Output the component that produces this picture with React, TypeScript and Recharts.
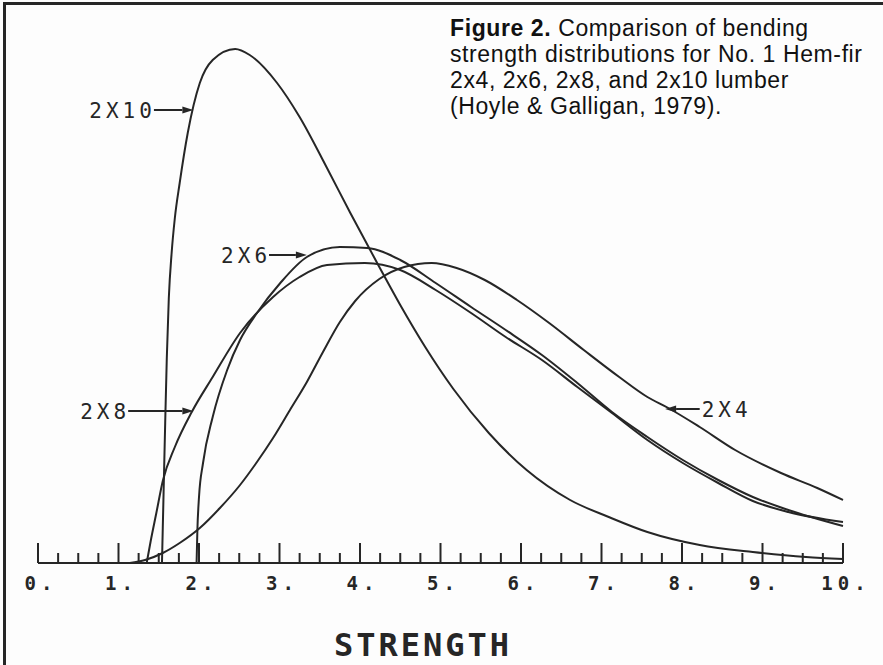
import React from 'react';
import { LineChart, Line, XAxis, YAxis, ReferenceLine } from 'recharts';

// strength distribution curves ([strength, density])
const SERIES_2X10: [number, number][] = [
  [1.54, 0], [1.56, 0.7], [1.58, 1.4], [1.6, 2.05], [1.625, 2.65], [1.66, 3.1], [1.7, 3.45],
  [1.76, 3.8], [1.86, 4.3], [2.01, 4.8], [2.17, 5.03], [2.45, 5.14], [2.63, 5.08], [2.97, 4.8],
  [3.25, 4.46], [3.59, 3.95], [3.88, 3.5], [4.24, 2.96], [4.5, 2.58], [4.81, 2.16], [5.16, 1.74],
  [5.6, 1.3], [6.07, 0.93], [6.61, 0.63], [7.09, 0.46], [7.57, 0.31], [8.22, 0.18], [8.88, 0.11],
  [9.54, 0.06], [10, 0.04],
];
const SERIES_2X8: [number, number][] = [
  [1.35, 0], [1.4, 0.22], [1.47, 0.5], [1.55, 0.82], [1.7, 1.16], [1.91, 1.51], [2.17, 1.86],
  [2.51, 2.3], [2.92, 2.66], [3.25, 2.86], [3.59, 2.98], [4.06, 3.0], [4.5, 2.93], [4.94, 2.73],
  [5.38, 2.5], [5.81, 2.26], [6.26, 2.03], [6.7, 1.76], [7.13, 1.5], [7.57, 1.23], [8.01, 1.0],
  [8.45, 0.8], [8.88, 0.62], [9.32, 0.51], [10, 0.41],
];
const SERIES_2X6: [number, number][] = [
  [1.97, 0], [1.98, 0.33], [2.0, 0.66], [2.05, 1.0], [2.17, 1.46], [2.35, 1.93], [2.51, 2.23],
  [2.72, 2.5], [3.01, 2.8], [3.34, 3.06], [3.75, 3.16], [4.09, 3.15], [4.5, 3.03], [4.94, 2.8],
  [5.38, 2.56], [5.81, 2.33], [6.26, 2.08], [6.7, 1.8], [7.13, 1.51], [7.57, 1.26], [8.01, 1.03],
  [8.45, 0.83], [8.88, 0.66], [9.32, 0.53], [10, 0.37],
];
const SERIES_2X4: [number, number][] = [
  [1.14, 0], [1.33, 0.03], [1.55, 0.1], [1.76, 0.2], [2.01, 0.35], [2.26, 0.55], [2.51, 0.78],
  [2.72, 1.01], [2.92, 1.25], [3.13, 1.53], [3.34, 1.81], [3.54, 2.11], [3.75, 2.41], [3.94, 2.62],
  [4.24, 2.84], [4.55, 2.96], [4.89, 3.0], [5.2, 2.95], [5.55, 2.83], [5.95, 2.63], [6.35, 2.4],
  [6.78, 2.13], [7.22, 1.86], [7.57, 1.66], [7.83, 1.55], [8.22, 1.36], [8.66, 1.13], [9.23, 0.9],
  [9.68, 0.75], [10, 0.63],
];

const MAJOR_TICKS = [0, 1, 2, 3, 4, 5, 6, 7, 8, 9, 10];
const TICK_LABELS = ['0.', '1.', '2.', '3.', '4.', '5.', '6.', '7.', '8.', '9.', '10.'];

// arrow callouts: tail (where the text sits) -> tip (touching the curve)
const CURVE_LABELS = [
  { text: '2X10', tail: [1.44, 4.53], tip: [1.93, 4.53] },
  { text: '2X6', tail: [2.87, 3.08], tip: [3.34, 3.08] },
  { text: '2X8', tail: [1.12, 1.52], tip: [1.93, 1.52] },
  { text: '2X4', tail: [8.22, 1.54], tip: [7.79, 1.54] },
];

const INK = '#262626';
const PLOT_FONT = '"DejaVu Sans Mono", monospace';

const toPoints = (s: [number, number][]) => s.map(([x, y]) => ({ x, y }));

const allTicks = MAJOR_TICKS.flatMap((t) => (t < 10 ? [t, t + 0.25, t + 0.5, t + 0.75] : [t]));

const AxisTick = (props: any) => {
  const { x, y, payload } = props;
  const i = MAJOR_TICKS.indexOf(payload.value);
  const major = i >= 0;
  return (
    <g>
      <line x1={x} x2={x} y1={y} y2={y - (major ? 20 : 10)} stroke={INK} strokeWidth={2} />
      {major && (
        <text x={x} y={y + 27} dx={3} textAnchor="middle" fontFamily={PLOT_FONT} fontSize={19}
          fontWeight="bold" letterSpacing={5} fill={INK}>
          {TICK_LABELS[i]}
        </text>
      )}
    </g>
  );
};

const ArrowLabel = (props: any) => {
  const { x1, y1, x2, y2, text } = props;
  const dir = x2 > x1 ? 1 : -1;
  const head = 11;
  return (
    <g>
      <line x1={x1} y1={y1} x2={x2 - dir * head} y2={y2} stroke={INK} strokeWidth={2} />
      <polygon points={`${x2},${y2} ${x2 - dir * head},${y2 - 3.5} ${x2 - dir * head},${y2 + 3.5}`} fill={INK} />
      <text x={x1 - dir * 2} y={y1} dy={8} dx={dir > 0 ? 4 : 0} textAnchor={dir > 0 ? 'end' : 'start'}
        fontFamily={PLOT_FONT} fontSize={21} letterSpacing={4} fill={INK}>
        {text}
      </text>
    </g>
  );
};

const seriesList = [SERIES_2X10, SERIES_2X8, SERIES_2X6, SERIES_2X4];

export default function App() {
  return (
    <div style={{ position: 'absolute', left: 0, top: 0, width: 883, height: 665, background: '#fdfdfd', overflow: 'hidden' }}>
      <div style={{ position: 'absolute', left: 3, top: 2, width: 880, height: 663, borderTop: `3px solid ${INK}`, borderLeft: `3px solid ${INK}` }} />
      <LineChart width={883} height={665} margin={{ top: 13, right: 40, bottom: 0, left: 38 }}>
        <XAxis
          type="number"
          dataKey="x"
          domain={[0, 10]}
          ticks={allTicks}
          interval={0}
          tickLine={false}
          tickSize={0}
          tickMargin={0}
          height={102}
          axisLine={{ stroke: INK, strokeWidth: 2 }}
          tick={<AxisTick />}
        />
        <YAxis hide type="number" domain={[0, 5.5]} />
        {seriesList.map((s, i) => (
          <Line
            key={i}
            data={toPoints(s)}
            dataKey="y"
            type="monotone"
            dot={false}
            stroke={INK}
            strokeWidth={2}
            isAnimationActive={false}
          />
        ))}
        {CURVE_LABELS.map((c) => (
          <ReferenceLine
            key={c.text}
            segment={[{ x: c.tail[0], y: c.tail[1] }, { x: c.tip[0], y: c.tip[1] }]}
            shape={(p: any) => <ArrowLabel {...p} text={c.text} />}
          />
        ))}
      </LineChart>
      <div style={{ position: 'absolute', left: 334, top: 627, fontFamily: PLOT_FONT, fontSize: 32, fontWeight: 'bold', letterSpacing: 3, color: INK, lineHeight: '36px' }}>
        STRENGTH
      </div>
      <div style={{ position: 'absolute', left: 450, top: 15, fontFamily: '"Liberation Sans", Arial, sans-serif', fontSize: 23, letterSpacing: 0.6, lineHeight: '26px', color: '#111' }}>
        <b>Figure 2.</b> Comparison of bending<br />
        strength distributions for No. 1 Hem-fir<br />
        2x4, 2x6, 2x8, and 2x10 lumber<br />
        (Hoyle &amp; Galligan, 1979).
      </div>
    </div>
  );
}
